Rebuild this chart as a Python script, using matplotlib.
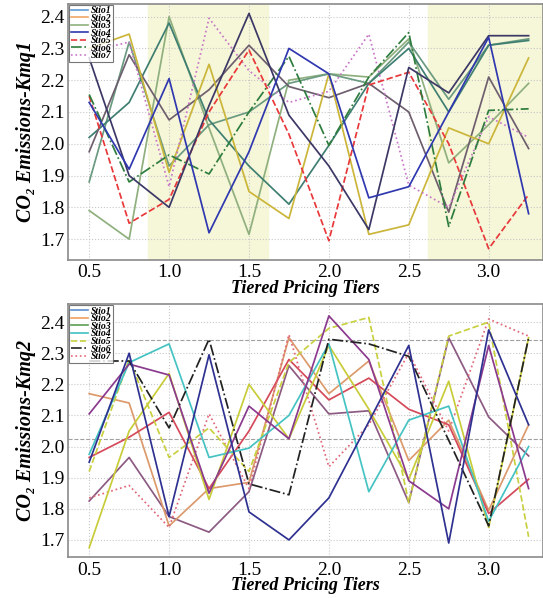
import matplotlib
matplotlib.use("Agg")
import matplotlib.pyplot as plt
from matplotlib.lines import Line2D

plt.rcParams['font.family'] = ['Liberation Serif', 'DejaVu Serif']

# x positions (tiers)
tiers = [0.5, 0.75, 1.0, 1.25, 1.5, 1.75, 2.0, 2.25, 2.5, 2.75, 3.0, 3.25]
legend_labels = ['Stio1', 'Stio2', 'Stio3', 'Stio4', 'Stio5', 'Stio6', 'Stio7']

# ---- top panel (Kmq1) ----
top_navy = [2.27, 1.90, 1.80, 2.12, 2.41, 2.09, 1.93, 1.73, 2.24, 2.16, 2.34, 2.34]
top_blue = [2.13, 1.92, 2.205, 1.72, 1.975, 2.30, 2.22, 1.83, 1.865, 2.10, 2.335, 1.78]
top_yellow = [2.30, 2.345, 1.91, 2.25, 1.85, 1.765, 2.22, 1.715, 1.745, 2.05, 2.00, 2.27]
top_red = [2.15, 1.75, 1.825, 2.10, 2.295, 2.03, 1.695, 2.185, 2.225, 2.00, 1.67, 1.84]
top_pink = [2.29, 2.32, 1.865, 2.395, 2.23, 2.13, 2.165, 2.345, 1.87, 1.80, 2.085, 2.02]
top_green_dd = [2.155, 1.88, 1.965, 1.905, 2.10, 2.275, 1.995, 2.21, 2.35, 1.74, 2.105, 2.11]
top_light = [1.79, 1.70, 2.40, 2.05, 1.715, 2.20, 2.22, 2.21, 2.33, 1.94, 2.06, 2.19]
top_teal = [2.02, 2.13, 2.38, 2.075, 1.93, 1.81, 1.995, 2.19, 2.30, 2.10, 2.31, 2.325]
top_brown = [1.975, 2.28, 2.075, 2.17, 2.31, 2.18, 2.145, 2.19, 2.10, 1.785, 2.21, 1.985]
top_dkgreen = [1.88, 2.32, 1.93, 2.06, 2.10, 2.19, 2.22, 2.19, 2.32, 2.14, 2.31, 2.33]

# ---- bottom panel (Kmq2) ----
bot_navy = [1.95, 2.30, 1.775, 2.295, 1.79, 1.70, 1.835, 2.08, 2.325, 1.69, 2.375, 2.07]
bot_cyan = [1.975, 2.27, 2.33, 1.965, 1.995, 2.10, 2.33, 1.855, 2.085, 2.13, 1.76, 2.00]
bot_ygreen = [1.675, 2.05, 2.235, 1.83, 2.20, 2.025, 2.325, 2.12, 1.895, 2.21, 1.74, 2.35]
bot_ydash = [1.92, 2.28, 1.965, 2.06, 1.92, 2.27, 2.38, 2.415, 1.82, 2.355, 2.40, 1.71]
bot_black = [2.275, 2.275, 2.06, 2.345, 1.88, 1.845, 2.345, 2.33, 2.29, 2.02, 1.745, 2.35]
bot_pink = [1.835, 1.875, 1.74, 2.105, 1.865, 2.36, 1.935, 2.07, 2.30, 2.05, 2.41, 2.355]
bot_tan = [2.17, 2.14, 1.745, 1.865, 1.885, 2.35, 2.17, 2.275, 1.955, 2.085, 1.795, 2.07]
bot_red = [1.965, 2.03, 2.11, 1.865, 2.05, 2.28, 2.15, 2.22, 2.12, 2.07, 1.785, 1.895]
bot_purple = [2.105, 2.265, 2.23, 1.85, 2.13, 2.025, 2.42, 2.28, 1.89, 1.80, 2.325, 1.865]
bot_mauve = [1.825, 1.965, 1.775, 1.725, 1.855, 2.26, 2.105, 2.115, 1.82, 2.35, 2.095, 1.97]
bot_hlines = [2.341, 2.024]

fig = plt.figure(figsize=(5.43, 5.98), dpi=100)
ax1 = fig.add_axes([0.126, 0.565, 0.874, 0.429])
ax2 = fig.add_axes([0.126, 0.068, 0.874, 0.423])

def style(ax, ylim, ylabel):
    ax.set_xlim(0.37, 3.34)
    ax.set_ylim(*ylim)
    ax.set_xticks([0.5, 1.0, 1.5, 2.0, 2.5, 3.0])
    ax.set_yticks([1.7, 1.8, 1.9, 2.0, 2.1, 2.2, 2.3, 2.4])
    ax.tick_params(labelsize=14, length=0, pad=3)
    ax.grid(True, linestyle=':', color='#c8c8c8', linewidth=0.8)
    ax.set_axisbelow(True)
    for s in ax.spines.values():
        s.set_color('#8a8a8a')
        s.set_linewidth(1.2)
    ax.set_xlabel('Tiered Pricing Tiers', labelpad=-1, fontsize=13,
                  fontweight='bold', fontstyle='italic')
    ax.set_ylabel(ylabel, labelpad=3, fontsize=14.5,
                  fontweight='bold', fontstyle='italic')

# top
ax1.axvspan(0.87, 1.62, color='#f6f6d8', zorder=0)
ax1.axvspan(2.62, 3.4, color='#f6f6d8', zorder=0)
lw = 1.25
ax1.plot(tiers, top_light, color='#8fb07e', lw=lw)
ax1.plot(tiers, top_dkgreen, color='#6a9a80', lw=lw)
ax1.plot(tiers, top_teal, color='#3f7f72', lw=lw)
ax1.plot(tiers, top_brown, color='#6e5f6e', lw=lw)
ax1.plot(tiers, top_yellow, color='#cbb63a', lw=lw)
ax1.plot(tiers, top_pink, color='#c878c8', lw=lw, ls=':')
ax1.plot(tiers, top_red, color='#e8383a', lw=lw, ls='--')
ax1.plot(tiers, top_green_dd, color='#2e7d3e', lw=lw, ls='-.')
ax1.plot(tiers, top_navy, color='#3c3866', lw=lw)
ax1.plot(tiers, top_blue, color='#3038b0', lw=lw)
style(ax1, (1.634, 2.441), 'CO₂ Emissions-Kmq1')

# bottom
for y in bot_hlines:
    ax2.axhline(y, color='#a0a0a0', ls='--', lw=0.8, zorder=1)
ax2.plot(tiers, bot_mauve, color='#8c5a82', lw=lw)
ax2.plot(tiers, bot_tan, color='#dc9a6c', lw=lw)
ax2.plot(tiers, bot_red, color='#d54a5a', lw=lw)
ax2.plot(tiers, bot_pink, color='#e06878', lw=lw, ls=':')
ax2.plot(tiers, bot_ydash, color='#c8d040', lw=lw, ls='--')
ax2.plot(tiers, bot_ygreen, color='#c8cc38', lw=lw)
ax2.plot(tiers, bot_cyan, color='#45c3c3', lw=lw)
ax2.plot(tiers, bot_purple, color='#8b3a8e', lw=lw)
ax2.plot(tiers, bot_black, color='#222222', lw=lw, ls='-.')
ax2.plot(tiers, bot_navy, color='#2e3190', lw=lw)
style(ax2, (1.644, 2.457), 'CO₂ Emissions-Kmq2')

top_leg = [('#5b9bd5', '-'), ('#f0a868', '-'), ('#8fb07e', '-'), ('#3038b0', '-'),
           ('#e8383a', '--'), ('#2e7d3e', '-.'), ('#c878c8', ':')]
bot_leg = [('#5b8fd0', '-'), ('#f0a060', '-'), ('#5aa050', '-'), ('#40c0c0', '-'),
           ('#c8d040', '--'), ('#222222', '-.'), ('#e06878', ':')]

for ax, spec in [(ax1, top_leg), (ax2, bot_leg)]:
    handles = [Line2D([], [], color=c, ls=ls, lw=1.2) for c, ls in spec]
    leg = ax.legend(handles, legend_labels, loc='upper left',
                    prop=dict(size=7, weight='bold', style='italic'),
                    frameon=True, fancybox=False, borderpad=0.15, labelspacing=-0.15,
                    handlelength=1.8, handletextpad=0.3, borderaxespad=0.1)
    leg.get_frame().set_edgecolor('#555555')
    leg.get_frame().set_linewidth(0.8)

fig.savefig('out.png', dpi=100)
